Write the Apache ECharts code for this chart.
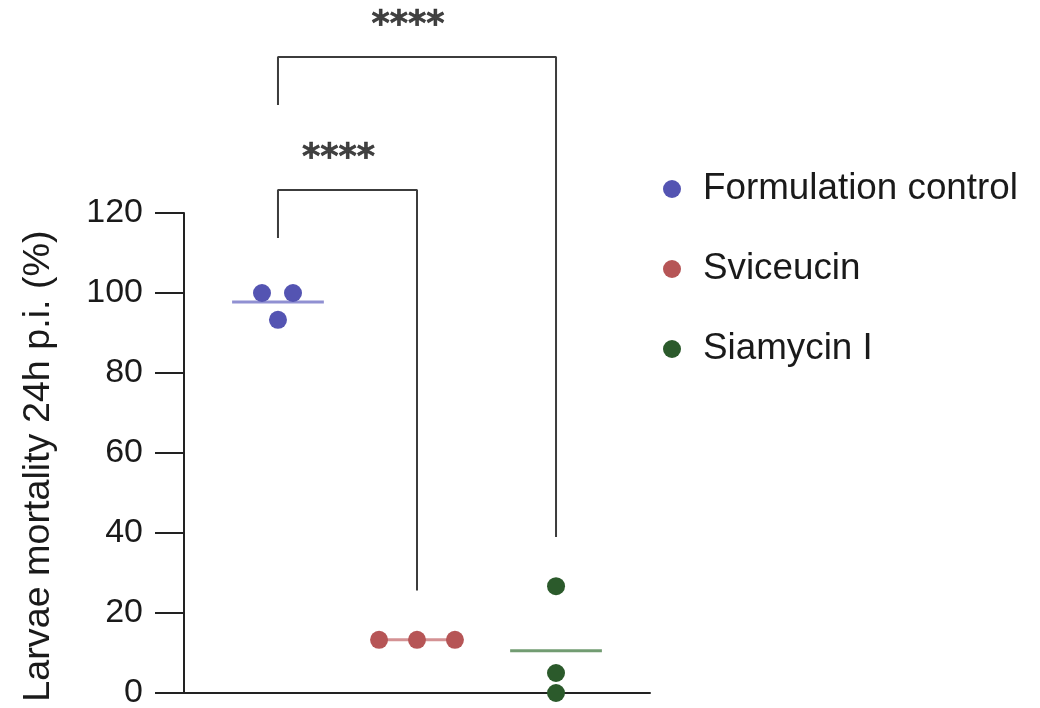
<!DOCTYPE html>
<html><head><meta charset="utf-8">
<script src="https://cdn.jsdelivr.net/npm/echarts@6/dist/echarts.min.js"></script>
<style>html,body{margin:0;padding:0;background:#fff}#c{width:1040px;height:708px}</style>
</head><body><div id="c"></div>
<script>
// ---- data ----
const groups = ['Formulation control', 'Sviceucin', 'Siamycin I'];
const formulationControl = [100, 100, 93.3];
const sviceucin = [13.3, 13.3, 13.3];
const siamycinI = [26.7, 5, 0];
const yTicks = [0, 20, 40, 60, 80, 100, 120];
const yTitle = 'Larvae mortality 24h p.i. (%)';
// significance comparisons (group indices, label, bracket height in axis units)
const comparisons = [
  { from: 0, to: 1, label: '****', level: 125.75 },
  { from: 0, to: 2, label: '****', level: 159 }
];

// ---- layout / style ----
const values = [formulationControl, sviceucin, siamycinI];
const jitter = [[-0.115, 0.108, 0], [-0.273, 0, 0.273], [0, 0, 0]];
const colors = ['#5454b2', '#b65556', '#2b5a2b'];
const meanColors = ['#9090d2', '#d49294', '#729c72'];
const halfWidth = 0.33;
const axisColor = '#222';
const font = 'Liberation Sans, Arial, sans-serif';

const series = [];
values.forEach((vals, g) => {
  const mean = vals.reduce((a, b) => a + b, 0) / vals.length;
  series.push({
    name: groups[g] + ' mean', type: 'line', silent: true, z: 2,
    symbol: 'none', clip: false,
    lineStyle: { color: meanColors[g], width: 3 },
    data: [[g + 1 - halfWidth, mean], [g + 1 + halfWidth, mean]]
  });
});
values.forEach((vals, g) => {
  series.push({
    name: groups[g], type: 'scatter', z: 3, symbol: 'circle', symbolSize: 18, clip: false,
    itemStyle: { color: colors[g], opacity: 1 },
    data: vals.map((v, i) => [g + 1 + jitter[g][i], v])
  });
});
comparisons.forEach((c, k) => {
  const rightMax = Math.max(...values[c.to]);
  series.push({
    name: 'bracket' + k, type: 'line', silent: true, z: 2, symbol: 'none', clip: false,
    lineStyle: { color: '#3c3c3c', width: 2 },
    data: [[c.from + 1, c.level - 12], [c.from + 1, c.level], [c.to + 1, c.level], [c.to + 1, rightMax + 12.3]]
  });
  series.push({
    name: 'stars' + k, type: 'scatter', silent: true, symbolSize: 0, clip: false,
    label: {
      show: true, position: 'top', distance: 14, offset: [-9, 0],
      formatter: c.label, color: '#111',
      textBorderColor: '#111', textBorderWidth: 0.6,
      fontFamily: 'DejaVu Sans', fontWeight: 'bold', fontSize: 35
    },
    data: [[(c.from + c.to) / 2 + 1, c.level]]
  });
});

const chart = echarts.init(document.getElementById('c'), null, { renderer: 'canvas' });
chart.setOption({
  animation: false,
  backgroundColor: '#fff',
  grid: { left: 184, right: 390, top: 213, bottom: 15, containLabel: false, outerBoundsMode: 'none' },
  legend: {
    data: groups, orient: 'vertical', left: 658, top: 164,
    itemWidth: 52, itemHeight: 18, itemGap: 40, icon: 'circle',
    textStyle: { fontFamily: font, fontSize: 36.8, color: '#1a1a1a', lineHeight: 40 }
  },
  xAxis: {
    type: 'value', min: 0.324, max: 3.676,
    axisLine: { show: true, onZero: false, lineStyle: { color: axisColor, width: 2 } },
    axisTick: { show: false }, axisLabel: { show: false }, splitLine: { show: false }
  },
  yAxis: {
    type: 'value', min: yTicks[0], max: yTicks[yTicks.length - 1], interval: yTicks[1] - yTicks[0],
    name: yTitle, nameLocation: 'middle', nameGap: 126,
    nameTextStyle: { fontFamily: font, fontSize: 37.7, color: '#1a1a1a', padding: [0, 26, 0, 0] },
    axisLine: { show: true, onZero: false, lineStyle: { color: axisColor, width: 2 } },
    axisTick: { show: true, inside: false, length: 29, lineStyle: { color: axisColor, width: 2 } },
    axisLabel: { margin: 41, fontFamily: font, fontSize: 34, color: '#1a1a1a' },
    splitLine: { show: false }
  },
  series: series
});
</script>
</body></html>
